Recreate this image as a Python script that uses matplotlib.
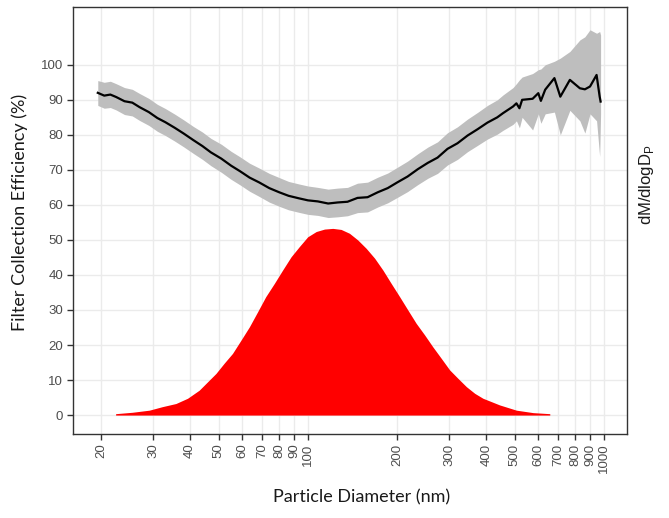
import matplotlib
matplotlib.use("Agg")
import matplotlib.pyplot as plt
from matplotlib.ticker import FixedLocator, NullLocator

# ---- data ----
diam_eff = [19.5, 20.5, 21.5, 22.5, 24, 25.5, 27, 29, 31, 33, 35.5, 38, 41, 44, 47, 51, 55, 59,
            63.5, 68.5, 74, 80, 86, 93, 100, 108, 117, 126, 136, 147, 159, 172, 186, 201, 217,
            235, 254, 274, 296, 320, 346, 374, 404, 436, 456, 493, 506, 518, 529, 574, 600, 612,
            633, 680, 712, 767, 829, 862, 897, 944, 967, 974]
efficiency = [92.0, 91.2, 91.5, 90.8, 89.6, 89.2, 87.9, 86.5, 84.8, 83.6, 82.0, 80.4, 78.5, 76.8,
              75.0, 73.2, 71.2, 69.6, 67.8, 66.4, 64.8, 63.6, 62.6, 61.9, 61.3, 61.0, 60.4, 60.7,
              60.9, 62.0, 62.2, 63.6, 64.8, 66.5, 68.1, 70.2, 72.0, 73.5, 76.0, 77.6, 79.8, 81.6,
              83.5, 85.0, 86.2, 88.1, 89.0, 87.6, 90.0, 90.3, 91.9, 89.7, 92.9, 96.2, 90.9, 95.7,
              93.3, 93.0, 93.8, 97.1, 90.9, 89.5]
eff_hi = [95.5, 95.0, 95.3, 94.6, 93.5, 93.0, 91.8, 90.4, 88.7, 87.5, 85.9, 84.3, 82.4, 80.8,
          79.0, 77.3, 75.3, 73.7, 71.9, 70.5, 69.0, 67.8, 66.7, 66.0, 65.4, 65.0, 64.5, 64.8,
          65.0, 66.2, 66.5, 67.9, 69.1, 70.8, 72.5, 74.6, 76.5, 78.0, 80.6, 82.3, 84.5, 86.4,
          88.4, 90.0, 91.4, 93.5, 94.6, 95.7, 96.5, 97.5, 98.6, 98.8, 100.0, 101.0, 101.9,
          103.8, 107.1, 108.0, 110.0, 109.0, 109.5, 108.5]
eff_lo = [88.4, 87.6, 87.8, 87.1, 85.8, 85.4, 84.1, 82.7, 81.0, 79.8, 78.2, 76.6, 74.7, 73.0,
          71.2, 69.3, 67.3, 65.7, 63.9, 62.4, 60.8, 59.6, 58.6, 57.9, 57.3, 57.0, 56.4, 56.6,
          56.9, 57.8, 58.0, 59.4, 60.6, 62.2, 63.8, 65.8, 67.6, 69.0, 71.4, 73.0, 75.2, 77.0,
          78.8, 80.2, 81.3, 83.0, 84.0, 82.0, 85.0, 81.4, 86.0, 83.3, 86.0, 86.5, 80.0, 87.0,
          84.0, 80.5, 86.0, 84.0, 73.8, 86.0]

diam_mass = [22.4, 25.5, 29.1, 32.2, 35.8, 39.2, 42.9, 45.8, 48.9, 52.1, 55.6, 59.4, 63.4, 67.6,
             72.0, 77.0, 82.1, 87.7, 93.5, 99.8, 106.6, 113.7, 121.3, 129.4, 138.1, 147.3,
             157.3, 167.9, 179.1, 191, 204, 217.5, 232, 247.7, 264, 282, 301, 321, 343, 366,
             390, 444, 506, 576, 656]
mass_dist = [0.4, 0.8, 1.4, 2.4, 3.3, 4.8, 7.1, 9.5, 11.9, 14.8, 17.6, 21.4, 25.2, 29.5,
             33.8, 37.6, 41.4, 45.2, 48.1, 50.9, 52.4, 53.1, 53.3, 53.0, 51.9, 50.0,
             47.6, 44.8, 41.4, 37.6, 33.8, 30.0, 26.2, 22.9, 19.5, 16.2, 12.9, 10.5, 8.1, 6.2,
             4.8, 2.9, 1.4, 0.7, 0.4]

x_ticks = [20, 30, 40, 50, 60, 70, 80, 90, 100, 200, 300, 400, 500, 600, 700, 800, 900, 1000]
y_ticks = [0, 10, 20, 30, 40, 50, 60, 70, 80, 90, 100]

# ---- figure ----
fig = plt.figure(figsize=(6.69, 5.18), dpi=100)
ax = fig.add_axes([73/669, 1-434/518, (627-73)/669, (434-7)/518])

ax.fill_between(diam_mass, 0, mass_dist, color="#FF0000", linewidth=0, zorder=2)
ax.fill_between(diam_eff, eff_lo, eff_hi, color="#BEBEBE", linewidth=0, zorder=3)
ax.plot(diam_eff, efficiency, color="black", linewidth=1.6, zorder=4)

ax.set_xscale("log")
ax.set_xlim(16.08, 1196)
ax.set_ylim(-5.4, 116.5)
ax.xaxis.set_major_locator(FixedLocator(x_ticks))
ax.xaxis.set_minor_locator(NullLocator())
ax.set_xticks(x_ticks)
ax.set_xticklabels([str(t) for t in x_ticks], rotation=90)
ax.set_yticks(y_ticks)
ax.set_yticklabels([str(t) for t in y_ticks])

ax.grid(True, which="major", color="#EBEBEB", linewidth=1.0, zorder=0)
ax.set_axisbelow(True)
for s in ax.spines.values():
    s.set_color("#333333")
    s.set_linewidth(1.0)

ax.tick_params(axis="both", colors="#333333", length=4, width=1,
               labelcolor="#4D4D4D", labelsize=9.5, pad=3)
for lab in ax.get_xticklabels() + ax.get_yticklabels():
    lab.set_family("Liberation Sans")

fig.text(362/669, 1-497/518, "Particle Diameter (nm)", ha="center", va="center",
         fontsize=13, family="Lato", color="#1a1a1a")
fig.text(20/669, 1-212/518, "Filter Collection Efficiency (%)", ha="center", va="center",
         rotation=90, fontsize=13, family="Lato", color="#1a1a1a")
fig.text(646/669, 1-185/518, r"dM/dlogD$_{\mathregular{P}}$", ha="center", va="center",
         rotation=90, fontsize=12, family="Liberation Sans", color="#1a1a1a")

fig.savefig("out.png", dpi=100, facecolor="white")
